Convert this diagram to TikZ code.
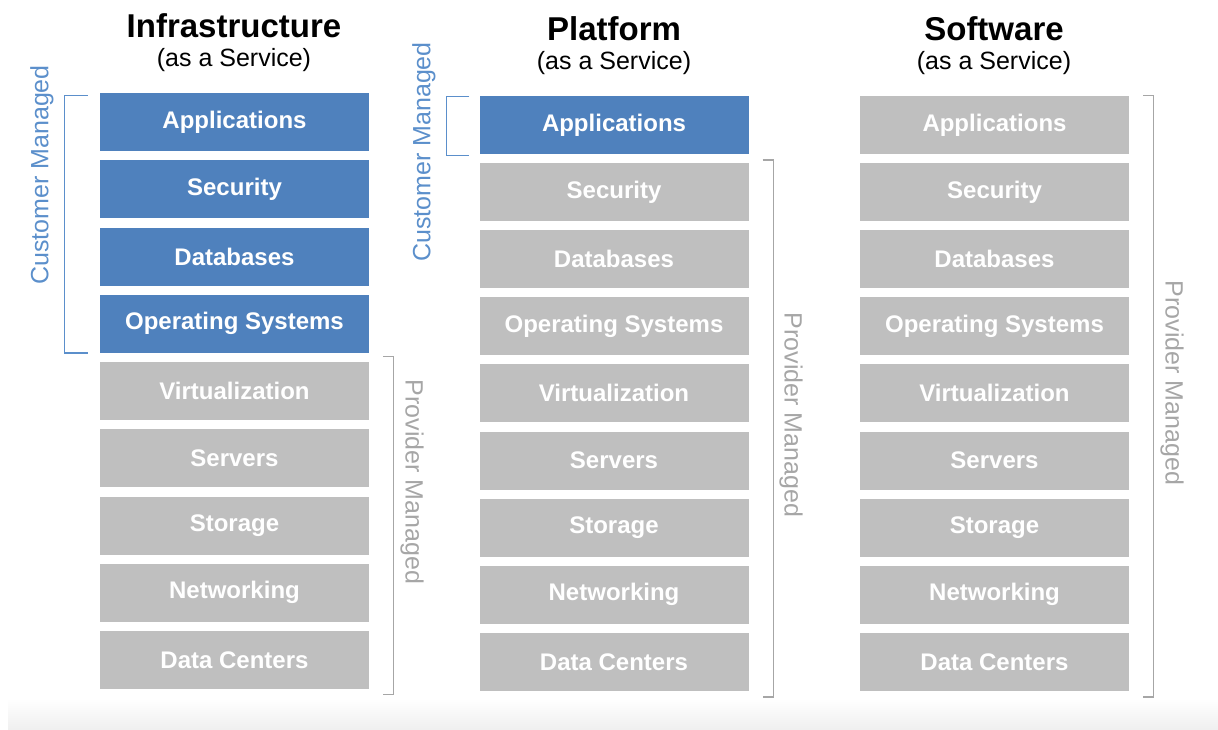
\documentclass[tikz,border=0pt]{standalone}
\usepackage{fontspec}
\setmainfont{Liberation Sans}
\usetikzlibrary{positioning}
\definecolor{layerblue}{HTML}{4F81BD}
\definecolor{layergray}{HTML}{BFBFBF}
\definecolor{custblue}{HTML}{5B8FCB}
\definecolor{provgray}{HTML}{A6A6A6}
\begin{document}
\begin{tikzpicture}[x=1pt,y=-1pt,
  layer/.style={rectangle,fill=#1,text=white,minimum width=269pt,minimum height=58pt,
    inner sep=0pt,font=\fontsize{24}{24}\selectfont\bfseries},
  layer/.default=layergray,
  title/.style={font=\fontsize{33}{33}\selectfont\bfseries},
  subtitle/.style={font=\fontsize{25}{25}\selectfont},
  side/.style={font=\fontsize{25}{25}\selectfont,text=#1},
  brace/.style={draw=#1,line width=1.3pt}]
        \useasboundingbox (0,0) rectangle (1218,729);
        \shade[top color=white,bottom color=black!6] (8,698) rectangle (1218,729);
        \node [title] (iaastitle) at (234,26) {Infrastructure};
        \node [subtitle] (iaassub) at (234,60) {(as a Service)};
        \node [title] (paastitle) at (614,29) {Platform};
        \node [subtitle] (paassub) at (614,63) {(as a Service)};
        \node [title] (saastitle) at (994,29) {Software};
        \node [subtitle] (saassub) at (994,63) {(as a Service)};
        \foreach \lname [count=\i] in {Applications,Security,Databases,Operating Systems,
            Virtualization,Servers,Storage,Networking,Data Centers} {
          \ifnum\i<5 \def\icol{layerblue}\else\def\icol{layergray}\fi
          \ifnum\i<2 \def\pcol{layerblue}\else\def\pcol{layergray}\fi
          \node [layer=\icol] (iaas\i) at (234.5,{122+(\i-1)*67.25}) {\lname};
          \node [layer=\pcol] (paas\i) at (614,{125+(\i-1)*67.1}) {\lname};
          \node [layer] (saas\i) at (994.5,{125+(\i-1)*67.1}) {\lname};
        }
        \draw [brace=custblue] ([xshift=-12pt,yshift=-3pt]iaas1.north west) -| ([xshift=-35pt]iaas4.south west) -- ([xshift=-12pt]iaas4.south west);
        \draw [brace=provgray] ([xshift=14pt,yshift=5pt]iaas5.north east) -| ([xshift=24pt,yshift=-5pt]iaas9.south east) -- ([xshift=14pt,yshift=-5pt]iaas9.south east);
        \draw [brace=custblue] ([xshift=-10pt,yshift=-1pt]paas1.north west) -| ([xshift=-33pt,yshift=-1pt]paas1.south west) -- ([xshift=-10pt,yshift=-1pt]paas1.south west);
        \draw [brace=provgray] ([xshift=14pt,yshift=3pt]paas2.north east) -| ([xshift=25pt,yshift=-6pt]paas9.south east) -- ([xshift=14pt,yshift=-6pt]paas9.south east);
        \draw [brace=provgray] ([xshift=14pt]saas1.north east) -| ([xshift=24pt,yshift=-6pt]saas9.south east) -- ([xshift=14pt,yshift=-6pt]saas9.south east);
        \node [side=custblue,rotate=90] (iaascust) at (42,175) {Customer Managed};
        \node [side=provgray,rotate=-90] (iaasprov) at (412,482) {Provider Managed};
        \node [side=custblue,rotate=90] (paascust) at (424,152) {Customer Managed};
        \node [side=provgray,rotate=-90] (paasprov) at (791,415) {Provider Managed};
        \node [side=provgray,rotate=-90] (saasprov) at (1172,383) {Provider Managed};
    \end{tikzpicture}
\end{document}
